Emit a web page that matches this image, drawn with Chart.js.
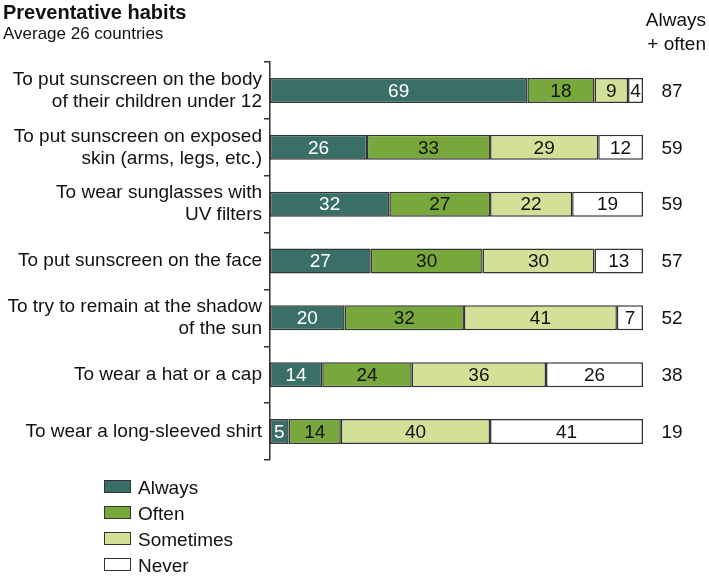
<!DOCTYPE html>
<html>
<head>
<meta charset="utf-8">
<script src="https://cdn.jsdelivr.net/npm/chart.js@4"></script>
<style>
  body { margin: 0; background: #fff; font-family: "Liberation Sans", Arial, sans-serif; color: #111; }
  #wrap { position: relative; width: 709px; height: 578px; }
  #chart { position: absolute; left: 0; top: 0; }
  .title { position: absolute; left: 3px; top: 1px; font-size: 20px; font-weight: bold; }
  .sub { position: absolute; left: 3px; top: 24px; font-size: 17px; }
  .head { position: absolute; right: 3px; top: 8px; font-size: 19px; text-align: right; line-height: 24px; }
  .legend { position: absolute; left: 104px; top: 475px; font-size: 19px; }
  .legend div { height: 26px; line-height: 26px; }
  .legend span.box { display: inline-block; width: 25px; height: 11px; border: 1px solid #333; margin-right: 7px; vertical-align: 1px; }
</style>
</head>
<body>
<div id="wrap">
  <canvas id="chart" width="709" height="578"></canvas>
  <div class="title">Preventative habits</div>
  <div class="sub">Average 26 countries</div>
  <div class="head">Always<br>+ often</div>
  <div class="legend" id="legend"></div>
</div>
<script>
const habits = [
    ['To put sunscreen on the body', 'of their children under 12'],
    ['To put sunscreen on exposed', 'skin (arms, legs, etc.)'],
    ['To wear sunglasses with', 'UV filters'],
    'To put sunscreen on the face',
    ['To try to remain at the shadow', 'of the sun'],
    'To wear a hat or a cap',
    'To wear a long-sleeved shirt'
];
const always = [69, 26, 32, 27, 20, 14, 5];
const often = [18, 33, 27, 30, 32, 24, 14];
const sometimes = [9, 29, 22, 30, 41, 36, 40];
const never = [4, 12, 19, 13, 7, 26, 41];
const seriesNames = ['Always', 'Often', 'Sometimes', 'Never'];
const seriesColors = ['#3a6f67', '#78a83b', '#d3e198', '#ffffff'];
const labelColors = ['#ffffff', '#111111', '#111111', '#111111'];

// legend in html
const legendEl = document.getElementById('legend');
seriesNames.forEach((name, i) => {
    const row = document.createElement('div');
    row.innerHTML = `<span class="box" style="background:${seriesColors[i]}"></span>${name}`;
    legendEl.appendChild(row);
});

// values inside bars + totals on the right
const valueLabels = {
    id: 'valueLabels',
    afterDatasetsDraw(chart) {
        const ctx = chart.ctx;
        ctx.save();
        ctx.font = '19px "Liberation Sans", Arial, sans-serif';
        ctx.textAlign = 'center';
        ctx.textBaseline = 'middle';
        chart.data.datasets.forEach((ds, di) => {
            const meta = chart.getDatasetMeta(di);
            meta.data.forEach((bar, i) => {
                const cx = (bar.x + bar.base) / 2;
                ctx.fillStyle = labelColors[di];
                ctx.fillText(ds.data[i], cx, bar.y + 1);
            });
        });
        const xs = chart.scales.x;
        ctx.fillStyle = '#111';
        chart.getDatasetMeta(0).data.forEach((bar, i) => {
            ctx.fillText(always[i] + often[i], xs.right + 29, bar.y + 1);
        });
        ctx.restore();
    }
};

const ctx = document.getElementById('chart').getContext('2d');
new Chart(ctx, {
    type: 'bar',
    data: {
        labels: habits,
        datasets: [always, often, sometimes, never].map((d, i) => ({
            label: seriesNames[i],
            data: d,
            backgroundColor: seriesColors[i],
            borderColor: '#333',
            borderWidth: 1.5,
            borderSkipped: false,
            barPercentage: 0.44,
            categoryPercentage: 1
        }))
    },
    options: {
        indexAxis: 'y',
        responsive: false,
        animation: false,
        layout: { padding: { left: 0, right: 66, top: 62, bottom: 118 } },
        plugins: { legend: { display: false }, tooltip: { enabled: false } },
        scales: {
            x: { stacked: true, min: 0, max: 100, display: false },
            y: {
                stacked: true,
                afterFit(scale) { scale.width = 270; },
                border: { display: true, color: '#333', width: 1.5 },
                grid: { offset: true, drawOnChartArea: false, drawTicks: true, tickLength: 6, color: '#333', lineWidth: 1.5 },
                ticks: { color: '#111', padding: 2, font: { family: '"Liberation Sans", Arial, sans-serif', size: 19, lineHeight: 1.16 } }
            }
        }
    },
    plugins: [valueLabels]
});
</script>
</body>
</html>
